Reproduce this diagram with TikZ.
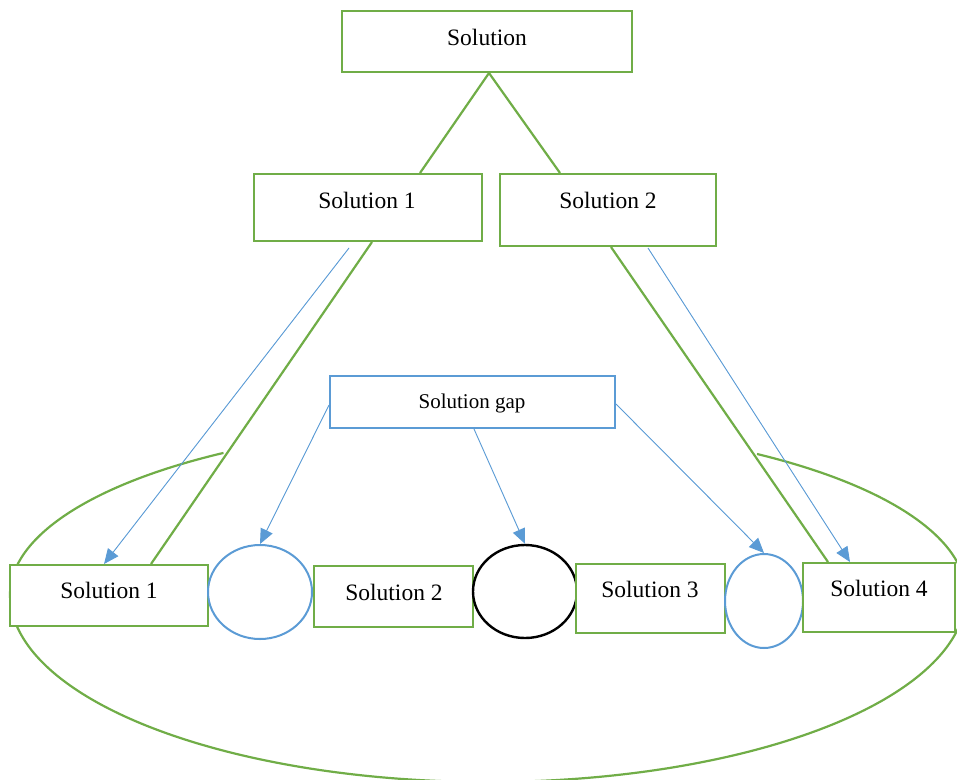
\documentclass[tikz,border=0pt]{standalone}
\usepackage{fontspec}
\setmainfont{Liberation Serif}
\usetikzlibrary{arrows.meta,shapes.geometric,calc}
\definecolor{sgreen}{HTML}{70AD47}
\definecolor{sblue}{HTML}{5B9BD5}
\begin{document}
\begin{tikzpicture}[x=1pt,y=-1pt,
  gbox/.style={draw=sgreen,line width=2pt,rectangle,inner sep=0pt,fill=white},
  bbox/.style={draw=sblue,line width=2pt,rectangle,inner sep=0pt,fill=white},
  oval/.style={ellipse,inner sep=0pt,line width=2pt,fill=white},
  txt/.style={inner sep=0pt,font=\fontsize{23.5}{28}\selectfont},
  stxt/.style={inner sep=0pt,font=\fontsize{21}{25}\selectfont},
  gline/.style={draw=sgreen,line width=2.2pt},
  barrow/.style={draw=sblue,line width=0.9pt,-{Triangle[length=15pt,width=13pt]},fill=sblue}]
\useasboundingbox (0,0) rectangle (957,779);
\clip (0,0) rectangle (957,779);
% big open ellipse (upper parts a little flatter than the lower half)
\draw[sgreen,line width=2.2pt]
  plot[domain=-55.75:0,samples=60,smooth] ({488+478*cos(\x)},{594.5+170*sin(\x)})
  -- plot[domain=0:180,samples=160,smooth] ({488+478*cos(\x)},{594.5+187.5*sin(\x)})
  -- plot[domain=180:236.4,samples=60,smooth] ({488+478*cos(\x)},{594.5+170*sin(\x)});
% boxes
\node[gbox,minimum width=290pt,minimum height=61pt] (top) at (487,41.5) {};
\node[gbox,minimum width=228pt,minimum height=67pt] (m1) at (368,207.5) {};
\node[gbox,minimum width=216pt,minimum height=72pt] (m2) at (608,210) {};
\node[bbox,minimum width=285pt,minimum height=52pt] (gap) at (472.5,402) {};
% lines
\draw[gline] ([xshift=2pt]top.south) -- ([xshift=52pt]m1.north);
\draw[gline] ([xshift=2pt]top.south) -- ([xshift=-48pt]m2.north);
% bottom row
\node[gbox,minimum width=198pt,minimum height=61pt] (b1) at (109,595.5) {};
\node[oval,draw=sblue,minimum width=104pt,minimum height=94pt] (c1) at (260,592) {};
\node[gbox,minimum width=159pt,minimum height=61pt] (b2) at (393.5,596.5) {};
\node[oval,draw=black,line width=2.4pt,minimum width=104pt,minimum height=93pt] (c2) at (525,591.5) {};
\node[gbox,minimum width=149pt,minimum height=69pt] (b3) at (650.5,598.5) {};
\node[oval,draw=sblue,minimum width=78pt,minimum height=94pt] (c3) at (764,601) {};
\node[gbox,minimum width=152pt,minimum height=69pt] (b4) at (879,597.5) {};
% texts
\node[txt] (ttop) at (487,37) {Solution};
\node[txt] (tm1) at (367,200.5) {Solution 1};
\node[txt] (tm2) at (608,200.5) {Solution 2};
\node[stxt] (tgap) at (472,403) {Solution gap};
\node[txt] (tb1) at (109,590.5) {Solution 1};
\node[txt] (tb2) at (394,592) {Solution 2};
\node[txt] (tb3) at (650,589.5) {Solution 3};
\node[txt] (tb4) at (879,588.5) {Solution 4};
% connectors
\draw[gline] ([xshift=4pt]m1.south) -- ([xshift=42pt]b1.north);
\draw[gline] ([xshift=3pt]m2.south) -- ([xshift=-51pt]b4.north);
\draw[barrow] ([xshift=-19pt,yshift=-6pt]m1.south) -- ([xshift=-5pt]b1.north);
\draw[barrow] ([xshift=40pt,yshift=-1pt]m2.south) -- ([xshift=-29pt]b4.north);
\draw[barrow] ([yshift=-3pt]gap.west) -- (c1.north);
\draw[barrow] ([xshift=1.5pt]gap.south) -- (c2.north);
\draw[barrow] ([yshift=-2pt]gap.east) -- (c3.north);
\end{tikzpicture}
\end{document}
